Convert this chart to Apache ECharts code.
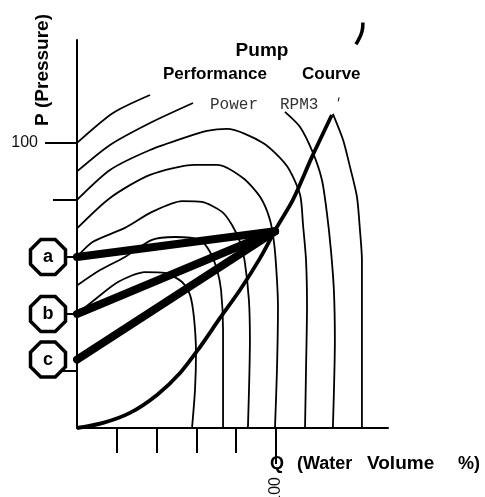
<!DOCTYPE html>
<html>
<head>
<meta charset="utf-8">
<script src="https://cdn.jsdelivr.net/npm/echarts@6/dist/echarts.min.js"></script>
<style>
html, body { margin: 0; padding: 0; background: #fff; }
#chart { width: 485px; height: 497px; }
</style>
</head>
<body>
<div id="chart"></div>
<script>
// Pump performance curves: Q (water volume %) against P (pressure %)
const qTicks = [20, 40, 60, 80];
const pTicks = [20, 40, 60, 80];
const ratedTick = [100];

// Head curves (thin), one per pump speed, read as [Q, P]
const head100 = [[0, 100], [18.1, 110.5], [36.7, 116.8]];
const head90 = [[0, 90], [16.6, 99.3], [36.7, 107], [58.3, 114]];
const head80 = [[0, 80], [16.6, 90.5], [36.7, 97.5], [55.3, 102.1], [65.3, 104.2], [75.4, 104.9], [93.5, 100], [105.5, 91.9], [112.1, 81.8], [113.6, 71.2], [115.1, 58.9], [115.6, 42.5], [115.1, 20.4], [114.6, 0]];
const head70 = [[0, 70], [16.6, 80.7], [36.7, 88.8], [59.3, 92.3], [70.4, 92.3], [83.4, 87.7], [92, 81.1], [97, 73], [99.2, 64], [100.5, 52], [101, 42.5], [100.5, 20.4], [99.5, 0]];
const head60 = [[0, 60], [8, 65.3], [24.1, 70.2], [37.7, 75.8], [52.8, 79.6], [62.8, 79.3], [72.9, 75.8], [77.9, 71.2], [81.9, 65.3], [84.2, 58.9], [86.4, 44.9], [86.9, 30.9], [85.9, 0]];
const head50 = [[0, 50], [11.6, 55.4], [24.1, 60], [37.7, 66], [49.2, 67], [61.8, 66], [66.8, 61.8], [70.4, 55.4], [72.4, 48.4], [73.4, 34.4], [73.4, 0]];
const head40 = [[0, 40], [7.5, 44.2], [20.6, 51.2], [34.2, 54.7], [44.2, 54.4], [52.8, 51.2], [56.8, 46.7], [58.8, 38.6], [59.8, 26.3], [59.3, 13.3], [57.8, 0]];
// Right-hand branches of the two fastest curves
const tail90 = [[104.5, 110.9], [112.1, 105.6], [118.6, 96.5], [123.1, 87], [125.6, 75.4], [127.6, 62.5], [129.1, 48.4], [129.6, 30.9], [128.6, 0]];
const tail100 = [[128.6, 110.2], [133.7, 101.1], [137.2, 91.6], [140.7, 81.1], [142.2, 69.5], [143.2, 58.9], [143.2, 0]];

// System resistance curve (thick)
const systemCurve = [[0, 0], [13.1, 1.8], [26.6, 5.3], [40.2, 11.6], [51.8, 19.3], [61.8, 28.4], [71.9, 38.6], [81.9, 48.4], [92, 59.6], [100.5, 70.5], [108.5, 80], [118.1, 95.1], [128.1, 109.8]];

// Operating lines a, b, c from the pressure axis to the duty point
const dutyPoint = [99.5, 69];
const opNames = ['a', 'b', 'c'];
const opStart = [60, 40, 24];

// Small stroke fragments near the top
const topArc = [[143.7, 142.2], [143.2, 139], [140.2, 134.6]];
const topMark = [[131.7, 116], [131.3, 114.6]];

const X_MAX = 156.3, Y_MAX = 136.1;
const thin = (data) => ({
  type: 'line', data, symbol: 'none', smooth: 0.25, silent: true,
  lineStyle: { color: '#000', width: 1.8 }, z: 2
});

const series = [head100, head90, head80, head70, head60, head50, head40, tail90, tail100].map(thin);
series.push({
  type: 'line', data: systemCurve, symbol: 'none', smooth: 0.3, silent: true,
  lineStyle: { color: '#000', width: 3.8 }, z: 3
});
series.push({
  type: 'line', data: topArc, symbol: 'none', smooth: 0.4, clip: false, silent: true,
  lineStyle: { color: '#000', width: 3.5 }, z: 3
});
series.push({
  type: 'line', data: topMark, symbol: 'none', clip: false, silent: true,
  lineStyle: { color: '#000', width: 1 }, z: 3
});
opStart.forEach((p) => {
  series.push({
    type: 'line', data: [[0, p], dutyPoint], symbol: 'none', silent: true,
    lineStyle: { color: '#000', width: 8, cap: 'round' }, z: 4
  });
});
// Octagonal markers naming each operating line
series.push({
  type: 'scatter', clip: false, silent: true, z: 6,
  data: opStart.map((p, i) => ({ value: [0, p], name: opNames[i] })),
  symbol: 'path://M29.3,0 L70.7,0 L100,29.3 L100,70.7 L70.7,100 L29.3,100 L0,70.7 L0,29.3 Z',
  symbolSize: 35,
  symbolOffset: [-29, 0],
  itemStyle: { color: '#fff', borderColor: '#000', borderWidth: 3.5, opacity: 1 },
  label: {
    show: true, position: 'inside',
    formatter: (d) => d.name,
    fontFamily: 'Liberation Sans', fontWeight: 'bold', fontSize: 18, color: '#000'
  }
});

const font = 'Liberation Sans';
const chart = echarts.init(document.getElementById('chart'), null, { renderer: 'canvas' });
chart.setOption({
  animation: false,
  backgroundColor: '#fff',
  grid: { left: 77, top: 40, width: 311, height: 388, containLabel: false, outerBoundsMode: 'none' },
  xAxis: [
    {
      type: 'value', min: 0, max: X_MAX, position: 'bottom',
      axisLine: { show: true, onZero: false, lineStyle: { color: '#000', width: 2 } },
      axisTick: { show: true, customValues: qTicks, length: 25, lineStyle: { color: '#000', width: 2 } },
      axisLabel: { show: false }, splitLine: { show: false }
    },
    {
      type: 'value', min: 0, max: X_MAX, position: 'bottom',
      axisLine: { show: false },
      axisTick: { show: true, customValues: ratedTick, length: 36, lineStyle: { color: '#000', width: 2 } },
      axisLabel: { show: true, customValues: ratedTick, rotate: 90, margin: 49, fontFamily: font, fontSize: 16, color: '#111' },
      splitLine: { show: false }
    }
  ],
  yAxis: [
    {
      type: 'value', min: 0, max: Y_MAX, position: 'left',
      axisLine: { show: true, onZero: false, lineStyle: { color: '#000', width: 2 } },
      axisTick: { show: true, customValues: pTicks, length: 24, lineStyle: { color: '#000', width: 2 } },
      axisLabel: { show: false }, splitLine: { show: false }
    },
    {
      type: 'value', min: 0, max: Y_MAX, position: 'left',
      axisLine: { show: false },
      axisTick: { show: true, customValues: ratedTick, length: 32, lineStyle: { color: '#000', width: 2 } },
      axisLabel: { show: true, customValues: ratedTick, margin: 39, fontFamily: font, fontSize: 16, color: '#111' },
      splitLine: { show: false }
    }
  ],
  graphic: [
    { type: 'text', x: 43, y: 70, rotation: Math.PI / 2, style: { text: 'P (Pressure)', font: 'bold 19px "Liberation Sans"', fill: '#000', align: 'center', verticalAlign: 'middle' } },
    { type: 'text', x: 262, y: 51, style: { text: 'Pump', font: 'bold 19px "Liberation Sans"', fill: '#000', align: 'center', verticalAlign: 'middle' } },
    { type: 'text', x: 163, y: 74, style: { text: 'Performance', font: 'bold 17px "Liberation Sans"', fill: '#000', align: 'left', verticalAlign: 'middle' } },
    { type: 'text', x: 302, y: 74, style: { text: 'Courve', font: 'bold 17px "Liberation Sans"', fill: '#000', align: 'left', verticalAlign: 'middle' } },
    { type: 'text', x: 210, y: 105, style: { text: 'Power', font: '16px "Liberation Mono"', fill: '#333', align: 'left', verticalAlign: 'middle' } },
    { type: 'text', x: 280, y: 105, style: { text: 'RPM3', font: '16px "Liberation Mono"', fill: '#333', align: 'left', verticalAlign: 'middle' } },
    { type: 'text', x: 270, y: 464, style: { text: 'Q', font: 'bold 18px "Liberation Sans"', fill: '#000', align: 'left', verticalAlign: 'middle' } },
    { type: 'text', x: 297, y: 464, style: { text: '(Water', font: 'bold 18px "Liberation Sans"', fill: '#000', align: 'left', verticalAlign: 'middle' } },
    { type: 'text', x: 367, y: 464, style: { text: 'Volume', font: 'bold 19px "Liberation Sans"', fill: '#000', align: 'left', verticalAlign: 'middle' } },
    { type: 'text', x: 458, y: 464, style: { text: '%)', font: 'bold 18px "Liberation Sans"', fill: '#000', align: 'left', verticalAlign: 'middle' } }
  ],
  series
});
</script>
</body>
</html>
